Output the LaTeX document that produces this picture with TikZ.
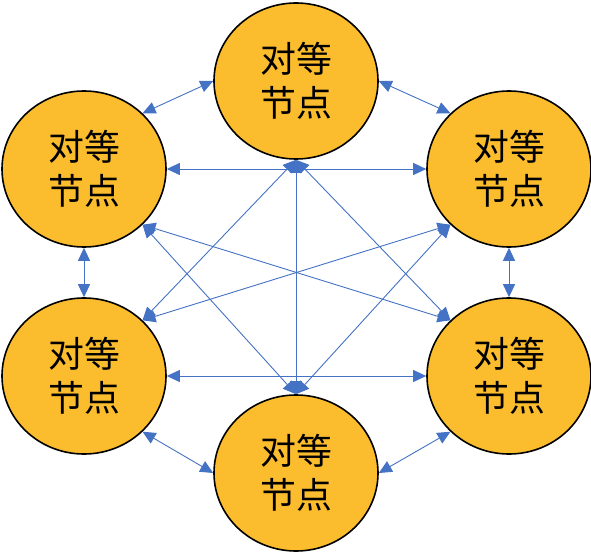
\documentclass[tikz,border=0pt]{standalone}
\usepackage{fontspec}
\newfontfamily\cjk{Noto Sans CJK SC}
\usetikzlibrary{shapes.geometric,arrows.meta}
\definecolor{peerfill}{RGB}{251,189,46}
\definecolor{linkblue}{RGB}{68,114,196}
\tikzset{
  peer/.style={ellipse, draw=black, line width=1.6bp, fill=peerfill,
    minimum width=164bp, minimum height=156bp, inner sep=0pt,
    align=center, font=\cjk\fontsize{36}{44}\selectfont},
  link/.style={draw=linkblue, line width=0.9bp,
    {Triangle[length=13bp,width=12bp]}-{Triangle[length=13bp,width=12bp]}}
}
\begin{document}
\begin{tikzpicture}[x=1bp,y=-1bp]
\useasboundingbox (0,0) rectangle (591,552);
\node[peer] (T)  at (296,81)  {对等\\节点};
\node[peer] (UL) at (84,169)  {对等\\节点};
\node[peer] (UR) at (509,169) {对等\\节点};
\node[peer] (LL) at (84,376)  {对等\\节点};
\node[peer] (LR) at (509,376) {对等\\节点};
\node[peer] (B)  at (296,473) {对等\\节点};
% adjacent links
\draw[link] (UL.north east) -- (T.west);
\draw[link] (UR.north west) -- (T.east);
\draw[link] (UL.south) -- (LL.north);
\draw[link] (UR.south) -- (LR.north);
\draw[link] (LL.south east) -- (B.west);
\draw[link] (LR.south west) -- (B.east);
% horizontal links
\draw[link] (UL.east) -- (UR.west);
\draw[link] (LL.east) -- (LR.west);
% from top
\draw[link] (LL.north east) -- (T.south);
\draw[link] (LR.north west) -- (T.south);
\draw[link] (B.north) -- (T.south);
% from bottom
\draw[link] (UL.south east) -- (B.north);
\draw[link] (UR.south west) -- (B.north);
% crossing diagonals
\draw[link] (UL.south east) -- (LR.north west);
\draw[link] (UR.south west) -- (LL.north east);
\end{tikzpicture}
\end{document}
